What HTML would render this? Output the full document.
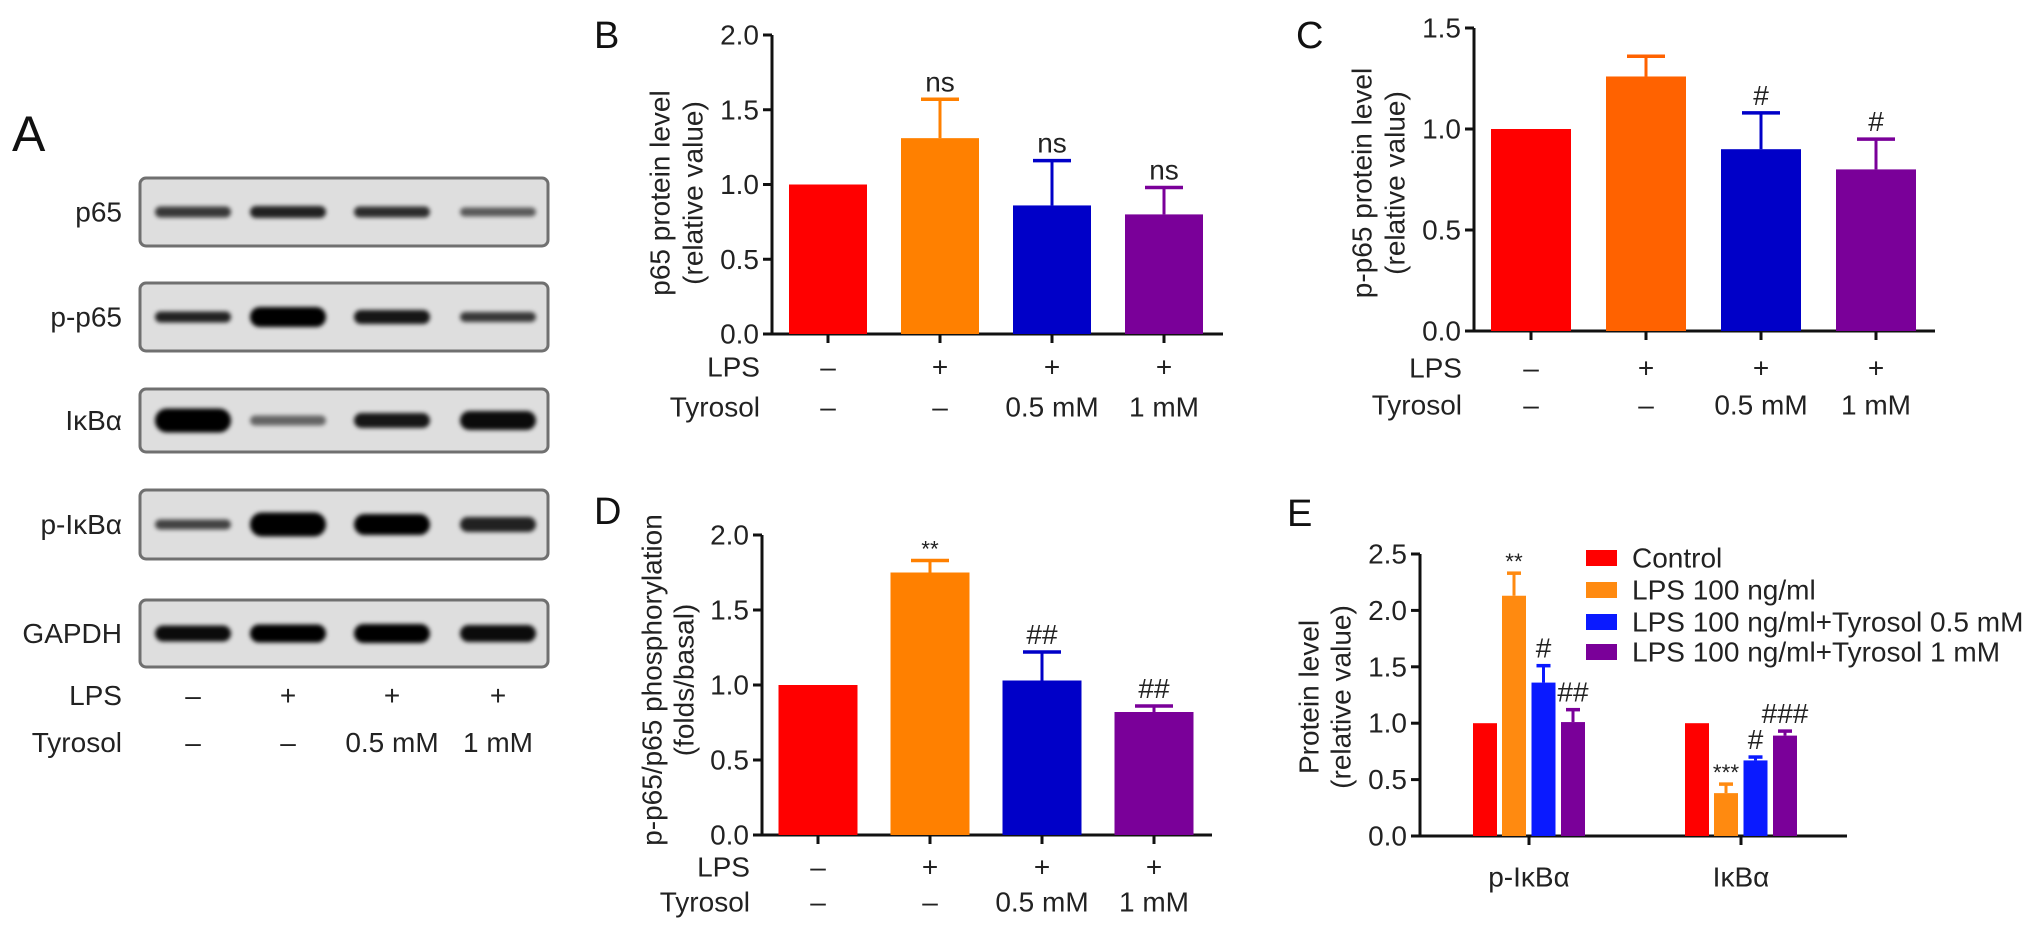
<!DOCTYPE html>
<html><head><meta charset="utf-8"><style>
html,body{margin:0;padding:0;background:#fff;}
svg{display:block;font-family:"Liberation Sans",Arial,sans-serif;}
</style></head><body>
<svg id="fig" width="2032" height="930" viewBox="0 0 2032 930" xmlns="http://www.w3.org/2000/svg">
<defs><filter id="blur" x="-20%" y="-50%" width="140%" height="200%"><feGaussianBlur stdDeviation="2.2"/></filter></defs>
<g id="panelA"></g>
<g id="charts"></g>
</svg>
<script>
// ---- Data ----
const categoriesBCD = ['Control','LPS','LPS+Tyrosol 0.5 mM','LPS+Tyrosol 1 mM'];
const lpsRow = ['–','+','+','+'];
const tyrosolRow = ['–','–','0.5 mM','1 mM'];
const bValues = [1.0, 1.31, 0.86, 0.80];
const bErrors = [0, 0.26, 0.30, 0.18];
const bMarks = ['', 'ns', 'ns', 'ns'];
const bTicks = ['0.0','0.5','1.0','1.5','2.0'];
const cValues = [1.0, 1.26, 0.90, 0.80];
const cErrors = [0, 0.10, 0.18, 0.15];
const cMarks = ['', '', '#', '#'];
const cTicks = ['0.0','0.5','1.0','1.5'];
const dValues = [1.0, 1.75, 1.03, 0.82];
const dErrors = [0, 0.08, 0.19, 0.04];
const dMarks = ['', '**', '##', '##'];
const dTicks = ['0.0','0.5','1.0','1.5','2.0'];
const eGroups = ['p-IκBα','IκBα'];
const eSeries = ['Control','LPS 100 ng/ml','LPS 100 ng/ml+Tyrosol 0.5 mM','LPS 100 ng/ml+Tyrosol 1 mM'];
const eValuesPI = [1.0, 2.13, 1.36, 1.01];
const eErrorsPI = [0, 0.20, 0.15, 0.11];
const eMarksPI = ['', '**', '#', '##'];
const eValuesI = [1.0, 0.38, 0.67, 0.89];
const eErrorsI = [0, 0.08, 0.03, 0.04];
const eMarksI = ['', '***', '#', '###'];
const eTicks = ['0.0','0.5','1.0','1.5','2.0','2.5'];
const blotNames = ['p65','p-p65','IκBα','p-IκBα','GAPDH'];
const blotIntensity = [
  [0.75,0.85,0.8,0.6],
  [0.85,1.0,0.9,0.75],
  [1.0,0.55,0.9,0.95],
  [0.7,1.0,1.0,0.85],
  [0.95,1.0,1.0,0.95]
];
const blotThickness = [
  [11,12,11,9],
  [11,20,14,10],
  [24,10,15,19],
  [10,24,21,15],
  [16,18,19,17]
];

const NS='http://www.w3.org/2000/svg';
function mk(tag, attrs, parent, text){
  const el=document.createElementNS(NS,tag);
  for(const k in attrs) el.setAttribute(k, attrs[k]);
  if(text!==undefined) el.textContent=text;
  parent.appendChild(el); return el;
}
const charts=document.getElementById('charts');
const pa=document.getElementById('panelA');

// ---- Panel A ----
(function(){
  const l=mk('text',{x:12,y:151,'font-size':50,fill:'#111'},pa,'A');
  
  
  const tops=[178,283,389,490,600], h=[68,68,63,69,67];
  const lanes=[193,288,392,498];
  blotNames.forEach((nm,i)=>{
    const g=mk('g',{},pa);
    
    
    mk('rect',{x:140,y:tops[i],width:408,height:h[i],rx:6,fill:'#dedede',stroke:'#707070','stroke-width':3},g);
    const cy=tops[i]+h[i]/2;
    lanes.forEach((lx,j)=>{
      const t=blotThickness[i][j], a=blotIntensity[i][j];
      const b=mk('rect',{x:lx-38,y:cy-t/2,width:76,height:t,rx:t/2,fill:'#000','fill-opacity':a,filter:'url(#blur)'},g);
      
      
    });
    const t=mk('text',{x:122,y:cy,'font-size':28,'text-anchor':'end','dominant-baseline':'central',fill:'#222'},g,nm);
    
    
  });
  const r1=mk('text',{x:122,y:705,'font-size':28,'text-anchor':'end',fill:'#222'},pa,'LPS');
   
  const r2=mk('text',{x:122,y:752,'font-size':28,'text-anchor':'end',fill:'#222'},pa,'Tyrosol');
   
  lanes.forEach((lx,j)=>{
    const a=mk('text',{x:lx,y:705,'font-size':28,'text-anchor':'middle',fill:'#222'},pa,lpsRow[j]);
     
    const b=mk('text',{x:lx,y:752,'font-size':28,'text-anchor':'middle',fill:'#222'},pa,tyrosolRow[j]);
     
  });
})();

// ---- generic axis helpers ----
function yAxis(g, ax, y0, yTop, maxV, ticks){
  const sc=v=>y0-(v/maxV)*(y0-yTop);
  mk('line',{x1:ax,y1:y0+1.5,x2:ax,y2:yTop,stroke:'#111','stroke-width':3},g);
  ticks.forEach(t=>{
    const v=parseFloat(t), y=sc(v);
    mk('line',{x1:ax-9,y1:y,x2:ax,y2:y,stroke:'#111','stroke-width':3},g);
    const tl=mk('text',{x:ax-13,y:y,'font-size':28,'text-anchor':'end','dominant-baseline':'central',fill:'#222'},g,t);
    
    
  });
  return sc;
}
function yTitle(g, lines, xs, cy){
  lines.forEach((s,i)=>{
    const t=mk('text',{x:xs[i],y:cy,'font-size':28,'text-anchor':'middle','dominant-baseline':'central',fill:'#222',transform:`rotate(-90 ${xs[i]} ${cy})`},g,s);
    
    
  });
}
function drawBar(g, cx, w, v, err, sc, y0, color, mark, capW, markSize){
  const yt=sc(v);
  const r=mk('rect',{x:cx-w/2,y:yt,width:w,height:y0-yt,fill:color},g);
  
  
  let top=yt;
  if(err>0){
    const ye=sc(v+err); top=ye;
    mk('line',{x1:cx,y1:yt,x2:cx,y2:ye,stroke:color,'stroke-width':3},g);
    mk('line',{x1:cx-capW/2,y1:ye,x2:cx+capW/2,y2:ye,stroke:color,'stroke-width':3.5},g);
  }
  if(mark){
    const st=mark.indexOf('*')>=0;
    const m=mk('text',{x:cx,y:top-(st?4:8),'font-size':st?markSize*0.8:markSize,'text-anchor':'middle',fill:'#222'},g,mark);
    
    
  }
}
function bcdPanel(cfg){
  const g=mk('g',{},charts);
  
  
  const L=mk('text',{x:cfg.letterX,y:cfg.letterY,'font-size':38,fill:'#111'},g,cfg.letter);
  
  
  const sc=yAxis(g,cfg.ax,cfg.y0,cfg.yTop,cfg.maxV,cfg.ticks);
  mk('line',{x1:cfg.ax-1.5,y1:cfg.y0,x2:cfg.xEnd,y2:cfg.y0,stroke:'#111','stroke-width':3},g);
  yTitle(g,cfg.title,cfg.titleX,cfg.titleY);
  const colors=cfg.colors;
  cfg.values.forEach((v,i)=>{
    const cx=cfg.c0+i*cfg.step;
    mk('line',{x1:cx,y1:cfg.y0,x2:cx,y2:cfg.y0+9,stroke:'#111','stroke-width':3},g);
    drawBar(g,cx,cfg.bw,v,cfg.errors[i],sc,cfg.y0,colors[i],cfg.marks[i],38,28);
    const a=mk('text',{x:cx,y:cfg.row1,'font-size':28,'text-anchor':'middle','dominant-baseline':'central',fill:'#222'},g,lpsRow[i]);
     
    const b=mk('text',{x:cx,y:cfg.row2,'font-size':28,'text-anchor':'middle','dominant-baseline':'central',fill:'#222'},g,tyrosolRow[i]);
     
  });
  const r1=mk('text',{x:cfg.ax-12,y:cfg.row1,'font-size':28,'text-anchor':'end','dominant-baseline':'central',fill:'#222'},g,'LPS');
   
  const r2=mk('text',{x:cfg.ax-12,y:cfg.row2,'font-size':28,'text-anchor':'end','dominant-baseline':'central',fill:'#222'},g,'Tyrosol');
   
}
const cols=['#ff0000','#ff8000','#0000c8','#7a0099'];
bcdPanel({name:'panel-b-p65-chart',letter:'B',letterX:594,letterY:48,ax:772,y0:334,yTop:35,maxV:2.0,ticks:bTicks,
  xEnd:1223,c0:828,step:112,bw:78,values:bValues,errors:bErrors,marks:bMarks,colors:cols,
  title:['p65 protein level','(relative value)'],titleX:[660,693],titleY:193,row1:367,row2:407});
bcdPanel({name:'panel-c-p-p65-chart',letter:'C',letterX:1296,letterY:48,ax:1474,y0:331,yTop:28,maxV:1.5,ticks:cTicks,
  xEnd:1935,c0:1531,step:115,bw:80,values:cValues,errors:cErrors,marks:cMarks,colors:['#ff0000','#ff6200','#0000c8','#7a0099'],
  title:['p-p65 protein level','(relative value)'],titleX:[1362,1395],titleY:183,row1:368,row2:405});
bcdPanel({name:'panel-d-phosphorylation-chart',letter:'D',letterX:594,letterY:524,ax:762,y0:835,yTop:535,maxV:2.0,ticks:dTicks,
  xEnd:1212,c0:818,step:112,bw:79,values:dValues,errors:dErrors,marks:dMarks,colors:cols,
  title:['p-p65/p65 phosphorylation','(folds/basal)'],titleX:[652,684],titleY:680,row1:867,row2:902});

// ---- Panel E ----
(function(){
  const g=mk('g',{},charts);
  
  
  const L=mk('text',{x:1287,y:526,'font-size':38,fill:'#111'},g,'E');
   
  const ax=1420,y0=836,yTop=554;
  const sc=yAxis(g,ax,y0,yTop,2.5,eTicks);
  mk('line',{x1:ax-1.5,y1:y0,x2:1847,y2:y0,stroke:'#111','stroke-width':3},g);
  yTitle(g,['Protein level','(relative value)'],[1309,1341],697);
  const ecols=['#ff0000','#ff8a10','#0a1aff','#7a0099'];
  const groupX=[1529,1741];
  const offs=[-44,-15,14.5,44];
  const vals=[eValuesPI,eValuesI], errs=[eErrorsPI,eErrorsI], marks=[eMarksPI,eMarksI];
  groupX.forEach((gx,gi)=>{
    mk('line',{x1:gx,y1:y0,x2:gx,y2:y0+9,stroke:'#111','stroke-width':3},g);
    vals[gi].forEach((v,i)=>drawBar(g,gx+offs[i],24,v,errs[gi][i],sc,y0,ecols[i],marks[gi][i],14,28));
    const t=mk('text',{x:gx,y:877,'font-size':28,'text-anchor':'middle','dominant-baseline':'central',fill:'#222'},g,eGroups[gi]);
     
  });
  const lg=mk('g',{},g);
  
  
  const rows=[558,590,622,652];
  eSeries.forEach((s,i)=>{
    const e=mk('g',{},lg);
    
    
    mk('rect',{x:1586,y:rows[i]-8,width:31,height:16,fill:ecols[i]},e);
    mk('text',{x:1632,y:rows[i],'font-size':28,'dominant-baseline':'central',fill:'#222'},e,s);
  });
})();
</script>
</body></html>
